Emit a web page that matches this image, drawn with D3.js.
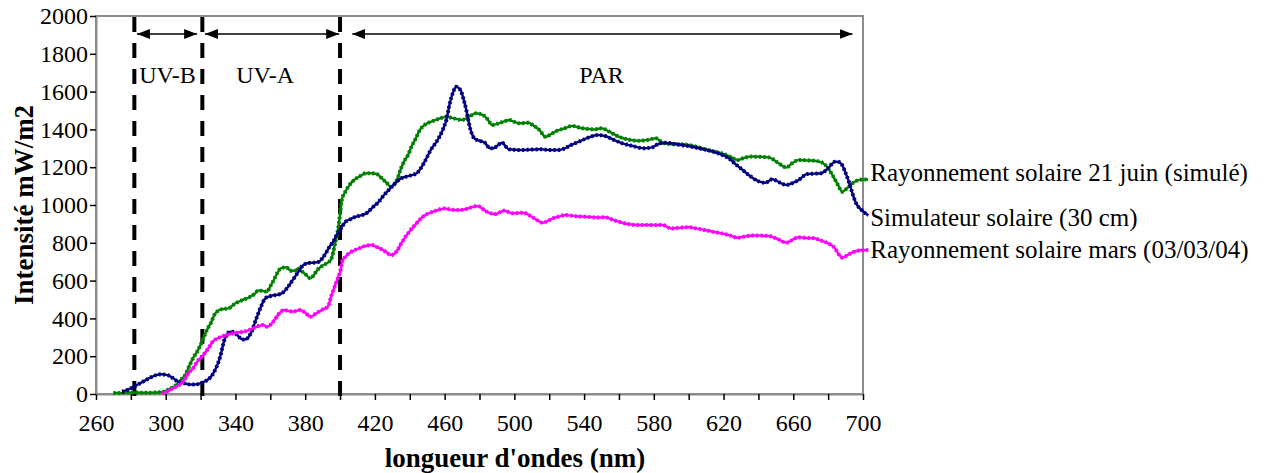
<!DOCTYPE html>
<html>
<head>
<meta charset="utf-8">
<script src="https://cdn.jsdelivr.net/npm/d3@7"></script>
<style>
  body { margin: 0; background: #fff; }
  text { font-family: "Liberation Serif", "Times New Roman", serif; fill: #000; }
</style>
</head>
<body>
<svg id="chart" width="1266" height="473"></svg>
<script>
// longueurs d'onde (nm) et intensités (mW/m2)

// Simulateur solaire (30 cm)
const wlSimu = [275, 278, 281, 285, 289, 293, 297, 301, 304, 307, 311, 315, 318, 321, 324, 326, 329, 331, 334, 336, 338, 341, 344, 346, 349, 352, 355, 357, 360, 364, 367, 370, 373, 376, 379, 382, 385, 388, 390, 392, 394, 396, 398, 400, 403, 406, 409, 412, 415, 419, 422, 425, 428, 431, 435, 439, 444, 446, 448, 450, 452, 455, 457, 459, 461, 463, 465, 466.5, 468, 469.5, 471, 472.5, 474, 475.5, 477, 480, 483, 486, 488, 490, 493, 495, 497, 503, 510, 515, 520, 525, 529, 532, 537, 542, 548, 552, 557, 562, 568, 574, 579, 582, 586, 591, 596, 601, 606, 611, 617, 620, 623, 627, 631, 635, 639, 644, 648, 652, 656, 660, 663, 668, 672, 676, 680, 684, 686, 688, 690, 692, 694, 696, 699, 703];
const valSimu = [12, 22, 35, 55, 76, 95, 104, 100, 85, 66, 56, 50, 52, 60, 75, 92, 140, 190, 295, 325, 330, 312, 288, 290, 325, 400, 470, 505, 518, 525, 535, 565, 605, 645, 683, 693, 695, 700, 720, 748, 780, 805, 840, 868, 910, 925, 938, 945, 956, 990, 1015, 1050, 1080, 1110, 1141, 1153, 1168, 1190, 1220, 1255, 1291, 1330, 1361, 1400, 1450, 1540, 1600, 1626, 1620, 1600, 1555, 1500, 1430, 1380, 1353, 1340, 1330, 1300, 1300, 1312, 1330, 1310, 1295, 1291, 1293, 1295, 1291, 1291, 1300, 1315, 1335, 1355, 1370, 1365, 1345, 1326, 1312, 1300, 1305, 1320, 1330, 1325, 1317, 1310, 1300, 1290, 1273, 1262, 1247, 1215, 1185, 1155, 1130, 1118, 1136, 1120, 1106, 1118, 1132, 1164, 1166, 1168, 1195, 1229, 1228, 1212, 1170, 1120, 1060, 1010, 975, 945];

// Rayonnement solaire 21 juin (simulé)
const wlJuin = [270, 274, 278, 282, 286, 290, 294, 298, 301, 304, 306, 308, 311, 314, 316, 318, 320, 322, 324, 326, 328, 330, 332, 336, 340, 344, 348, 351, 353, 356, 358, 360, 362, 364, 366, 369, 372, 374, 376, 378, 380, 383, 385, 387, 390, 393, 395, 397, 399, 400, 401, 403, 405, 408, 411, 415, 418, 421, 424, 427, 429, 432, 435, 437, 439, 441, 443, 446, 448, 450, 455, 458, 461, 465, 470, 474, 478, 482, 485, 487, 491, 495, 497, 500, 503, 508, 511, 514, 518, 521, 524, 529, 533, 539, 546, 550, 555, 560, 566, 571, 577, 581, 586, 591, 596, 603, 611, 619, 624, 628, 632, 636, 641, 646, 651, 656, 660, 663, 669, 674, 678, 680, 683, 686, 688, 691, 694, 697, 700, 703];
const valJuin = [5, 5, 8, 8, 7, 7, 8, 10, 21, 35, 48, 70, 98, 158, 195, 224, 260, 303, 345, 378, 420, 440, 448, 453, 480, 497, 512, 530, 547, 545, 541, 570, 603, 640, 665, 670, 652, 652, 665, 650, 635, 612, 630, 656, 680, 695, 715, 790, 880, 950, 1026, 1070, 1100, 1132, 1150, 1168, 1168, 1164, 1141, 1115, 1097, 1120, 1194, 1235, 1264, 1310, 1344, 1400, 1420, 1432, 1450, 1460, 1467, 1459, 1450, 1467, 1485, 1476, 1450, 1423, 1432, 1445, 1450, 1440, 1432, 1435, 1420, 1400, 1361, 1375, 1391, 1406, 1418, 1406, 1400, 1406, 1385, 1361, 1345, 1340, 1345, 1353, 1326, 1322, 1321, 1312, 1291, 1273, 1255, 1238, 1250, 1256, 1255, 1252, 1225, 1199, 1225, 1238, 1236, 1232, 1215, 1194, 1150, 1100, 1070, 1090, 1115, 1130, 1135, 1135];

// Rayonnement solaire mars (03/03/04)
const wlMars = [298, 301, 304, 307, 309, 311, 313, 316, 318, 321, 323, 325, 327, 329, 331, 335, 340, 345, 350, 354, 356, 358, 361, 363, 365, 368, 371, 373, 377, 380, 383, 386, 388, 391, 393, 395, 397, 399, 400, 401.5, 403, 405, 408, 411, 414, 418, 421, 424, 427, 429, 431, 433, 435, 437, 440, 443, 446, 448, 452, 455, 460, 464, 467, 472, 476, 479, 481, 484, 487, 489, 494, 499, 505, 510, 513, 516, 519, 522, 526, 529, 535, 541, 548, 552, 557, 562, 566, 571, 578, 585, 590, 595, 600, 605, 609, 614, 619, 624, 628, 632, 636, 641, 646, 651, 656, 660, 663, 668, 672, 676, 680, 684, 686, 688.5, 691, 695, 699, 703];
const valMars = [3, 15, 30, 45, 56, 80, 109, 140, 171, 200, 224, 250, 277, 292, 300, 312, 324, 330, 347, 362, 365, 356, 375, 400, 425, 444, 438, 436, 444, 430, 409, 425, 436, 452, 462, 520, 570, 620, 645, 709, 725, 744, 760, 771, 782, 788, 778, 765, 748, 735, 740, 762, 795, 824, 862, 894, 925, 942, 960, 970, 982, 975, 973, 978, 990, 995, 985, 965, 955, 952, 970, 956, 959, 938, 920, 906, 915, 929, 940, 947, 941, 938, 934, 935, 920, 906, 898, 894, 894, 894, 876, 880, 882, 875, 868, 858, 850, 838, 827, 833, 838, 838, 836, 820, 801, 818, 829, 826, 824, 812, 797, 770, 740, 721, 735, 753, 760, 762];

const seriesNames = ["Rayonnement solaire 21 juin (simulé)", "Simulateur solaire (30 cm)", "Rayonnement solaire mars (03/03/04)"];
const seriesColors = ["#008000", "#000080", "#ff00ff"];
const labelShift = [-7, 2, 0];   // décalage vertical des étiquettes (px)

// bandes spectrales
const bandLimits = [282, 321, 400];
const bandNames = ["UV-B", "UV-A", "PAR"];
const bandLabelAt = [301, 357, 550];
const bandArrows = [[283.5, 318], [322.5, 399.5], [407, 694]];

const yTicks = d3.range(0, 2001, 200);
const xTicks = d3.range(260, 701, 20);

const svg = d3.select("#chart");
const plotLeft = 96, plotRight = 863, plotTop = 16, plotBottom = 394;

let x = d3.scaleLinear().domain([260, 700]).range([plotLeft, plotRight]);
let y = d3.scaleLinear().domain([0, 2000]).range([plotBottom, plotTop]);

// cadre gris
svg.append("rect")
    .attr("x", plotLeft).attr("y", plotTop)
    .attr("width", plotRight - plotLeft).attr("height", plotBottom - plotTop)
    .attr("fill", "none")
    .attr("stroke", "#8c8c8c")
    .attr("stroke-width", 2);

// axes
let xAxis = svg.append("g")
    .attr("transform", `translate(0,${plotBottom})`)
    .call(d3.axisBottom(x).tickValues(xTicks).tickSize(6).tickSizeOuter(0)
        .tickFormat(d => d % 40 === 20 ? d : ""));
let yAxis = svg.append("g")
    .attr("transform", `translate(${plotLeft},0)`)
    .call(d3.axisLeft(y).tickValues(yTicks).tickSize(6).tickSizeOuter(0)
        .tickFormat(d3.format("d")));

[xAxis, yAxis].forEach(g => {
    g.attr("font-family", null).attr("font-size", null);
    g.select(".domain").attr("stroke", "#8c8c8c").attr("stroke-width", 2);
    g.selectAll(".tick line").attr("stroke", "#000").attr("stroke-width", 1.5);
    g.selectAll(".tick text")
        .style("font-size", "24px")
        .attr("fill", "#000");
});
xAxis.selectAll(".tick text").attr("dy", "1.15em");
yAxis.selectAll(".tick text").attr("x", -8);

// titres des axes
svg.append("text")
    .attr("x", 515).attr("y", 467)
    .attr("text-anchor", "middle")
    .style("font-size", "27px").style("font-weight", "bold")
    .text("longueur d'ondes (nm)");
svg.append("text")
    .attr("transform", "translate(33,205) rotate(-90)")
    .attr("text-anchor", "middle")
    .style("font-size", "27px").style("font-weight", "bold")
    .text("Intensité mW/m2");

// limites des bandes (tirets)
svg.selectAll(".limit")
    .data(bandLimits)
    .enter()
    .append("line")
    .attr("class", "limit")
    .attr("x1", d => x(d)).attr("x2", d => x(d))
    .attr("y1", plotTop + 1).attr("y2", plotBottom + 3)
    .attr("stroke", "#000")
    .attr("stroke-width", 4)
    .attr("stroke-dasharray", "15,11");

// flèches
let defs = svg.append("defs");
defs.append("marker")
    .attr("id", "head")
    .attr("viewBox", "0 0 13 10")
    .attr("refX", 13).attr("refY", 5)
    .attr("markerWidth", 13).attr("markerHeight", 10)
    .attr("markerUnits", "userSpaceOnUse")
    .attr("orient", "auto-start-reverse")
    .append("path")
    .attr("d", "M0,0 L13,5 L0,10 Z")
    .attr("fill", "#000");

svg.selectAll(".arrow")
    .data(bandArrows)
    .enter()
    .append("line")
    .attr("class", "arrow")
    .attr("x1", d => x(d[0])).attr("x2", d => x(d[1]))
    .attr("y1", 34).attr("y2", 34)
    .attr("stroke", "#000")
    .attr("stroke-width", 1.5)
    .attr("marker-start", "url(#head)")
    .attr("marker-end", "url(#head)");

svg.selectAll(".band")
    .data(bandNames)
    .enter()
    .append("text")
    .attr("class", "band")
    .attr("x", (d, i) => x(bandLabelAt[i]))
    .attr("y", 83)
    .attr("text-anchor", "middle")
    .style("font-size", "24px")
    .text(d => d);

// courbes
let series = [
    { wl: wlJuin, val: valJuin },
    { wl: wlSimu, val: valSimu },
    { wl: wlMars, val: valMars }
];

let line = d3.line()
    .x(d => x(d[0]))
    .y(d => y(d[1]))
    .curve(d3.curveMonotoneX);

series.forEach((s, i) => {
    let pts = s.wl.map((w, j) => [w, s.val[j]]);
    svg.append("path")
        .datum(pts)
        .attr("d", line)
        .attr("fill", "none")
        .attr("stroke", seriesColors[i])
        .attr("stroke-width", 2.5);
    // petits marqueurs façon Excel
    svg.append("path")
        .datum(pts)
        .attr("d", line)
        .attr("fill", "none")
        .attr("stroke", seriesColors[i])
        .attr("stroke-width", 4)
        .attr("stroke-dasharray", "2,2.5");
    let last = pts[pts.length - 1];
    svg.append("text")
        .attr("x", x(last[0]) + 2)
        .attr("y", y(last[1]) + labelShift[i])
        .attr("dy", "0.33em")
        .style("font-size", "25px")
        .text(seriesNames[i]);
});
</script>
</body>
</html>
